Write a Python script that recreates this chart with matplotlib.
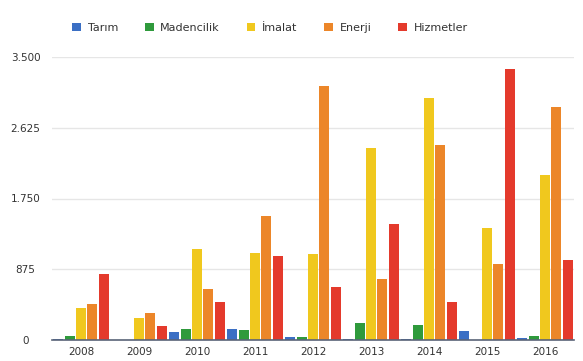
import matplotlib
matplotlib.use("Agg")
import matplotlib.pyplot as plt
import numpy as np
from matplotlib.patches import Patch

years = ["2008", "2009", "2010", "2011", "2012", "2013", "2014", "2015", "2016"]
series_names = ["Tarım", "Madencilik", "İmalat", "Enerji", "Hizmetler"]
tarim      = [12, 0, 95, 140, 41, 15, 15, 111, 20]
madencilik = [53, 0, 140, 120, 41, 206, 186, 0, 50]
imalat     = [396, 276, 1122, 1072, 1060, 2371, 2993, 1382, 2041]
enerji     = [445, 338, 635, 1534, 3146, 755, 2412, 940, 2878]
hizmetler  = [816, 173, 466, 1043, 656, 1435, 466, 3349, 990]
yticks = [0, 875, 1750, 2625, 3500]
ytick_labels = ["0", "875", "1.750", "2.625", "3.500"]

colors = ["#3b6fc4", "#2f9a3c", "#f0c81e", "#ec8629", "#e43a2c"]
data = [tarim, madencilik, imalat, enerji, hizmetler]

fig = plt.figure(figsize=(5.83, 3.61), dpi=100)
ax = fig.add_axes([52/583, 1-340/361, (574-52)/583, (340-57)/361])

x = np.arange(len(years))
step = 0.195
w = 0.175
for i, (vals, c, name) in enumerate(zip(data, colors, series_names)):
    ax.bar(x + (i - 2) * step, vals, width=w, color=c, label=name, zorder=3)

ax.set_xlim(-0.5, len(years) - 0.5)
ax.set_ylim(0, 3500)
ax.set_yticks(yticks)
ax.set_yticklabels(ytick_labels)
ax.set_xticks(x)
ax.set_xticklabels(years)
ax.tick_params(axis="both", length=0, labelsize=7.5, colors="#333333")
ax.tick_params(axis="y", pad=19)
for lab in ax.get_yticklabels():
    lab.set_horizontalalignment("center")
ax.tick_params(axis="x", pad=5)
ax.grid(axis="y", color="#e6e6e6", linewidth=1, zorder=0)
for s in ["top", "right", "left"]:
    ax.spines[s].set_visible(False)
ax.spines["bottom"].set_color("#5a6478")
ax.spines["bottom"].set_linewidth(1.2)
ax.spines["bottom"].set_zorder(4)

handles = [Patch(facecolor=c, label=n) for c, n in zip(colors, series_names)]
fig.legend(handles=handles, loc="center", bbox_to_anchor=(270/583, 1-28/361), ncol=5,
           frameon=False, fontsize=8, handlelength=0.8, handleheight=0.8,
           handletextpad=0.6, columnspacing=2.4, labelcolor="#333333")

fig.savefig("out.png", dpi=100)
